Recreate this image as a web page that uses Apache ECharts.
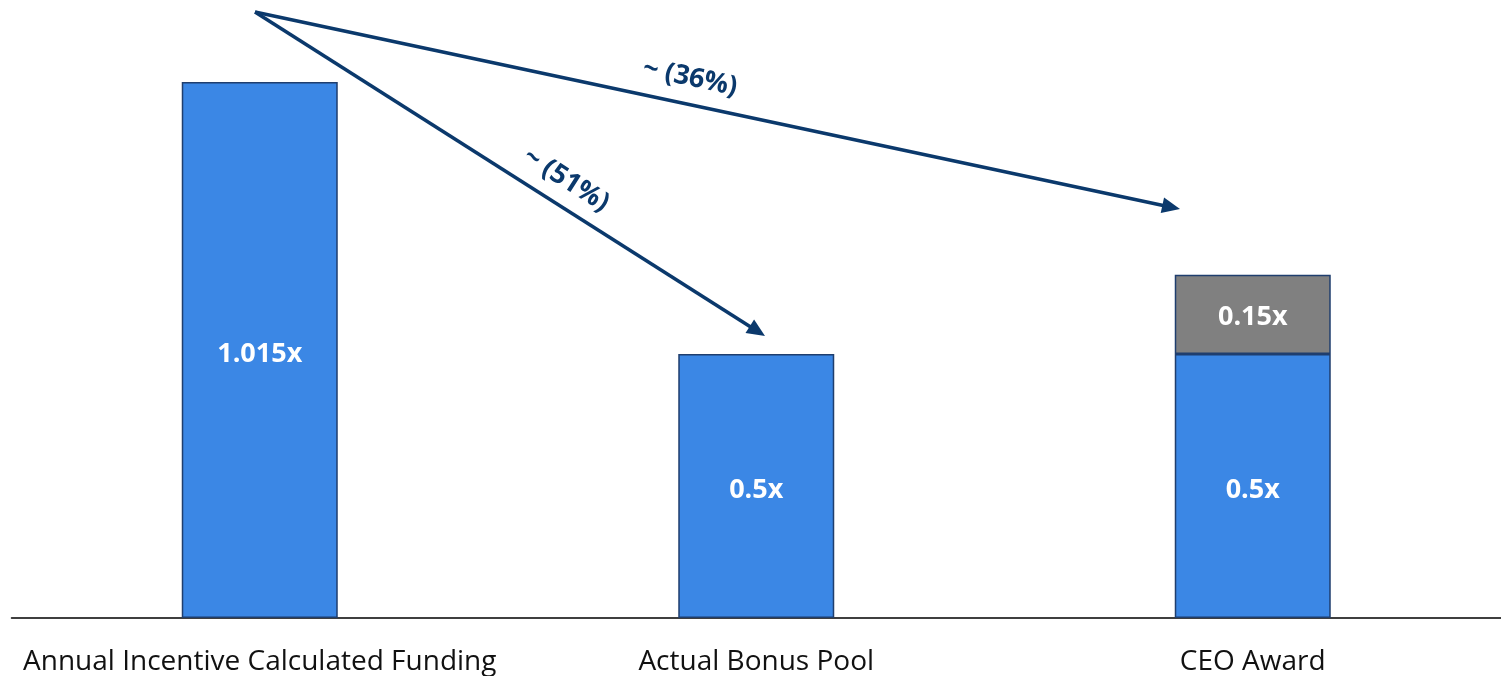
<!DOCTYPE html>
<html>
<head>
<meta charset="utf-8">
<script src="https://cdn.jsdelivr.net/npm/echarts@6/dist/echarts.min.js"></script>
<style>
html,body{margin:0;padding:0;background:#fff;}
#main{width:1501px;height:676px;}
</style>
</head>
<body>
<div id="main"></div>
<script>
let categories=["Annual Incentive Calculated Funding","Actual Bonus Pool","CEO Award"]
let base_values=[1.015,0.5,0.5]
let extra_values=['-','-',0.15]
let base_labels=["1.015x","0.5x","0.5x"]
let extra_labels=['','',"0.15x"]
// arrow annotations: start / end in pixels, label text
let arrow_list=[
    {from:[255,12],to:[765,336],text:"~ (51%)",at:[566,180]},
    {from:[255,12],to:[1180,209],text:"~ (36%)",at:[690,78]}
]

let navy='#0b396c'
let chart=echarts.init(document.getElementById('main'))

function arrowGraphics(){
    let items=[]
    arrow_list.forEach(a=>{
        let dx=a.to[0]-a.from[0], dy=a.to[1]-a.from[1]
        let len=Math.sqrt(dx*dx+dy*dy)
        let ux=dx/len, uy=dy/len
        let headLen=18, headW=8
        let bx=a.to[0]-ux*headLen, by=a.to[1]-uy*headLen
        items.push({
            type:'line',
            shape:{x1:a.from[0],y1:a.from[1],x2:bx+ux*2,y2:by+uy*2},
            style:{stroke:navy,lineWidth:3.5}
        })
        items.push({
            type:'polygon',
            shape:{points:[[a.to[0],a.to[1]],[bx-uy*headW,by+ux*headW],[bx+uy*headW,by-ux*headW]]},
            style:{fill:navy}
        })
        items.push({
            type:'text',
            x:a.at[0],y:a.at[1],
            rotation:-Math.atan2(dy,dx),
            style:{text:a.text,fill:navy,font:'bold 27px "Open Sans"',align:'center',verticalAlign:'middle'}
        })
    })
    return items
}

chart.setOption({
    backgroundColor:'#fff',
    animation:false,
    grid:{left:11.5,width:1494,top:10.8,bottom:58},
    xAxis:{
        type:'category',
        data:categories,
        axisLine:{lineStyle:{color:'#000',width:1.5}},
        axisTick:{show:false},
        axisLabel:{color:'#111',fontSize:28,fontFamily:'Open Sans',margin:30,interval:0}
    },
    yAxis:{
        type:'value',min:0,max:1.15,show:false,
        splitLine:{show:false}
    },
    series:[
        {
            type:'bar',stack:'a',barWidth:156,
            data:base_values,
            itemStyle:{color:'#3b87e5',borderColor:'#1f3e6e',borderWidth:1.5},
            label:{show:true,position:'inside',offset:[0,4],color:'#fff',fontSize:27,fontWeight:'bold',fontFamily:'Open Sans',
                formatter:p=>base_labels[p.dataIndex]}
        },
        {
            type:'bar',stack:'a',barWidth:156,
            data:extra_values,
            itemStyle:{color:'#808080',borderColor:'#1f3e6e',borderWidth:1.5},
            label:{show:true,position:'inside',offset:[0,3],color:'#fff',fontSize:27,fontWeight:'bold',fontFamily:'Open Sans',
                formatter:p=>extra_labels[p.dataIndex]}
        }
    ],
    graphic:arrowGraphics()
})
</script>
</body>
</html>
